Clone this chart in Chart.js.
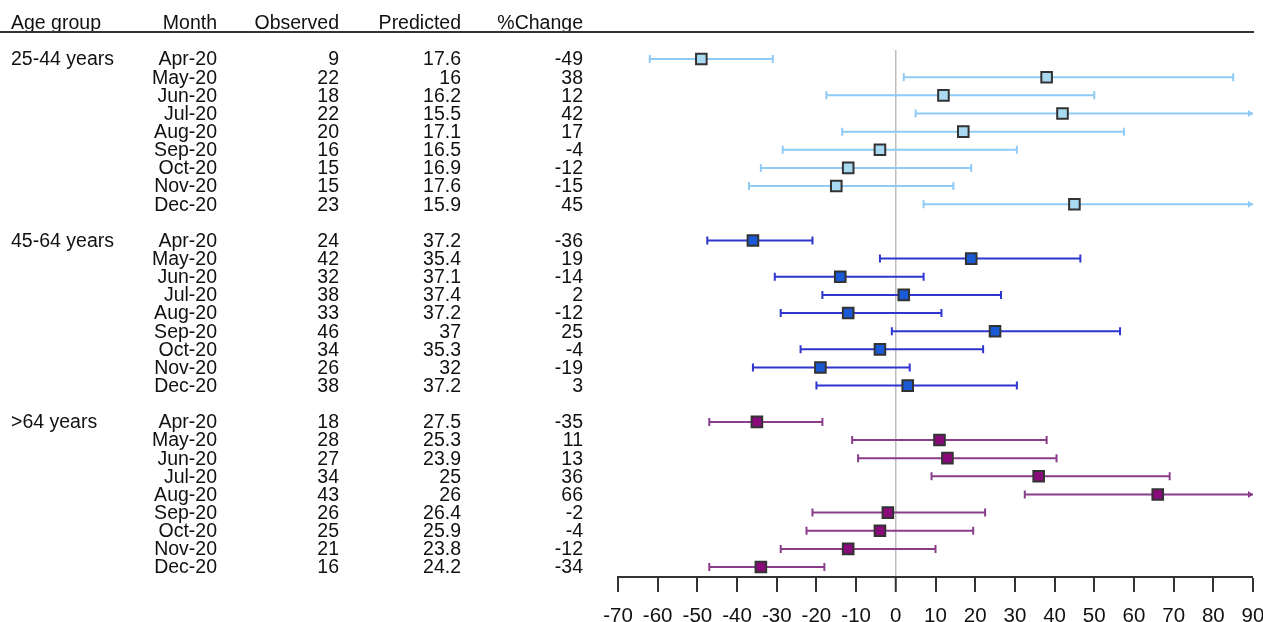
<!DOCTYPE html>
<html>
<head>
<meta charset="utf-8">
<script src="https://cdn.jsdelivr.net/npm/chart.js@4/dist/chart.umd.min.js"></script>
<style>
html,body{margin:0;padding:0;background:#fff;}
#wrap{width:1263px;height:622px;position:relative;}
</style>
</head>
<body>
<div id="wrap"><canvas id="c" width="1263" height="622"></canvas></div>
<script>
// ---- Data ----
const ageGroups = ['25-44 years', '45-64 years', '>64 years'];
const months = ['Apr-20', 'May-20', 'Jun-20', 'Jul-20', 'Aug-20', 'Sep-20', 'Oct-20', 'Nov-20', 'Dec-20'];
const headers = ['Age group', 'Month', 'Observed', 'Predicted', '%Change'];
const xTicks = [-70, -60, -50, -40, -30, -20, -10, 0, 10, 20, 30, 40, 50, 60, 70, 80, 90];

const observedA = [9, 22, 18, 22, 20, 16, 15, 15, 23];
const predictedA = [17.6, 16, 16.2, 15.5, 17.1, 16.5, 16.9, 17.6, 15.9];
const changeA = [-49, 38, 12, 42, 17, -4, -12, -15, 45];
const lowerA = [-62, 2, -17.5, 5, -13.5, -28.5, -34, -37, 7];
const upperA = [-31, 85, 50, 90, 57.5, 30.5, 19, 14.5, 90];

const observedB = [24, 42, 32, 38, 33, 46, 34, 26, 38];
const predictedB = [37.2, 35.4, 37.1, 37.4, 37.2, 37, 35.3, 32, 37.2];
const changeB = [-36, 19, -14, 2, -12, 25, -4, -19, 3];
const lowerB = [-47.5, -4, -30.5, -18.5, -29, -1, -24, -36, -20];
const upperB = [-21, 46.5, 7, 26.5, 11.5, 56.5, 22, 3.5, 30.5];

const observedC = [18, 28, 27, 34, 43, 26, 25, 21, 16];
const predictedC = [27.5, 25.3, 23.9, 25, 26, 26.4, 25.9, 23.8, 24.2];
const changeC = [-35, 11, 13, 36, 66, -2, -4, -12, -34];
const lowerC = [-47, -11, -9.5, 9, 32.5, -21, -22.5, -29, -47];
const upperC = [-18.5, 38, 40.5, 69, 90, 22.5, 19.5, 10, -18];

// ---- Styling ----
const FONT = '"Liberation Sans", Arial, sans-serif';
const groupStyles = [
  { line: '#8fcbf5', fill: '#a9daf2' },
  { line: '#2f35cf', fill: '#1b5ad6' },
  { line: '#8a3d8a', fill: '#8a0a7c' }
];
const groups = [
  { obs: observedA, pred: predictedA, chg: changeA, lo: lowerA, hi: upperA },
  { obs: observedB, pred: predictedB, chg: changeB, lo: lowerB, hi: upperB },
  { obs: observedC, pred: predictedC, chg: changeC, lo: lowerC, hi: upperC }
];
const ROWS_PER_GROUP = 10;

const datasets = groups.map((g, gi) => ({
  label: ageGroups[gi],
  data: g.chg.map((v, i) => ({ x: v, y: gi * ROWS_PER_GROUP + i, lo: g.lo[i], hi: g.hi[i] })),
  pointStyle: 'rect',
  pointRadius: 7.5,
  pointHoverRadius: 7.5,
  pointBorderWidth: 2,
  pointBorderColor: '#333',
  pointBackgroundColor: groupStyles[gi].fill,
  showLine: false
}));

const errorBarPlugin = {
  id: 'errorBars',
  beforeDatasetsDraw(chart) {
    const ctx = chart.ctx;
    const xs = chart.scales.x, ys = chart.scales.y;
    ctx.save();
    chart.data.datasets.forEach((ds, gi) => {
      ctx.strokeStyle = groupStyles[gi].line;
      ctx.fillStyle = groupStyles[gi].line;
      ctx.lineWidth = 2;
      ds.data.forEach(p => {
        const y = ys.getPixelForValue(p.y);
        const x1 = xs.getPixelForValue(Math.max(p.lo, xs.min));
        const x2 = xs.getPixelForValue(Math.min(p.hi, xs.max));
        ctx.beginPath();
        ctx.moveTo(x1, y); ctx.lineTo(x2, y);
        ctx.moveTo(x1, y - 4); ctx.lineTo(x1, y + 4);
        if (p.hi >= xs.max) {
          ctx.stroke();
          ctx.beginPath();
          ctx.moveTo(x2, y); ctx.lineTo(x2 - 5, y - 3.5); ctx.lineTo(x2 - 5, y + 3.5); ctx.closePath();
          ctx.fill();
          ctx.beginPath();
        } else {
          ctx.moveTo(x2, y - 4); ctx.lineTo(x2, y + 4);
        }
        ctx.stroke();
      });
    });
    ctx.restore();
  }
};

const tablePlugin = {
  id: 'table',
  afterDraw(chart) {
    const ctx = chart.ctx;
    const ys = chart.scales.y;
    ctx.save();
    ctx.fillStyle = '#111';
    ctx.font = '19.5px ' + FONT;
    // header
    ctx.textBaseline = 'alphabetic';
    const headerY = 29;
    const colRight = [null, 217, 339, 461, 583];
    ctx.textAlign = 'left';
    ctx.fillText(headers[0], 11, headerY);
    ctx.textAlign = 'right';
    for (let c = 1; c < headers.length; c++) ctx.fillText(headers[c], colRight[c], headerY);
    // header rule
    ctx.strokeStyle = '#333';
    ctx.lineWidth = 2;
    ctx.beginPath();
    ctx.moveTo(0, 32); ctx.lineTo(1254, 32);
    ctx.stroke();
    // rows
    ctx.textBaseline = 'middle';
    groups.forEach((g, gi) => {
      months.forEach((m, i) => {
        const y = ys.getPixelForValue(gi * ROWS_PER_GROUP + i) + 1;
        if (i === 0) { ctx.textAlign = 'left'; ctx.fillText(ageGroups[gi], 11, y); }
        ctx.textAlign = 'right';
        ctx.fillText(m, colRight[1], y);
        ctx.fillText(String(g.obs[i]), colRight[2], y);
        ctx.fillText(String(g.pred[i]), colRight[3], y);
        ctx.fillText(String(g.chg[i]), colRight[4], y);
      });
    });
    ctx.restore();
  }
};

new Chart(document.getElementById('c'), {
  type: 'scatter',
  data: { datasets },
  options: {
    responsive: false,
    animation: false,
    events: [],
    layout: { padding: { left: 618, right: 10, top: 50, bottom: 0 } },
    plugins: { legend: { display: false }, tooltip: { enabled: false } },
    scales: {
      x: {
        type: 'linear',
        min: xTicks[0],
        max: xTicks[xTicks.length - 1],
        afterBuildTicks: axis => { axis.ticks = xTicks.map(v => ({ value: v })); },
        afterFit: axis => { axis.height = 45; axis.paddingRight = 0; axis.paddingLeft = 0; },
        border: { display: true, color: '#333', width: 2 },
        grid: {
          drawOnChartArea: true,
          drawTicks: true,
          tickLength: 15,
          tickWidth: 2,
          tickColor: '#333',
          lineWidth: ctx => (ctx.tick && ctx.tick.value === 0 ? 1.5 : 0),
          color: ctx => (ctx.tick && ctx.tick.value === 0 ? '#bdbdbd' : 'rgba(0,0,0,0)')
        },
        ticks: {
          color: '#111',
          padding: 14,
          font: { family: FONT, size: 20.5, lineHeight: 1.0 },
          maxRotation: 0,
          autoSkip: false
        }
      },
      y: {
        type: 'linear',
        display: false,
        reverse: true,
        min: -0.5,
        max: 28.55
      }
    }
  },
  plugins: [errorBarPlugin, tablePlugin]
});
</script>
</body>
</html>
